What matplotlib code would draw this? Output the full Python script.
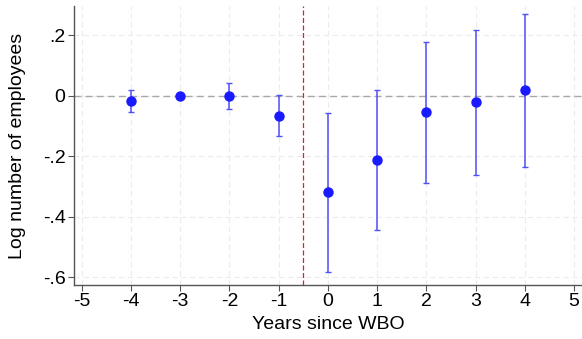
import matplotlib
matplotlib.use("Agg")
from matplotlib import pyplot as plt
import numpy as np

plt.rcParams['font.family'] = ['Liberation Sans', 'DejaVu Sans']

years = [-4, -3, -2, -1, 0, 1, 2, 3, 4]
coef = [-0.017, 0.0, -0.001, -0.066, -0.318, -0.212, -0.055, -0.022, 0.019]
ci_low = [-0.054, 0.0, -0.044, -0.134, -0.584, -0.445, -0.287, -0.263, -0.235]
ci_high = [0.019, 0.0, 0.042, 0.001, -0.056, 0.020, 0.177, 0.216, 0.270]

xticks = [-5, -4, -3, -2, -1, 0, 1, 2, 3, 4, 5]
yticks = [-0.6, -0.4, -0.2, 0, 0.2]
ytick_labels = ["-.6", "-.4", "-.2", "0", ".2"]

fig = plt.figure(figsize=(5.82, 3.39), dpi=100)
ax = fig.add_axes([0.127, 0.159, 0.873, 0.823])

coef = np.asarray(coef)
yerr = [coef - np.asarray(ci_low), np.asarray(ci_high) - coef]

ax.axhline(0, color="#a8a8a8", linestyle=(0, (5, 3)), linewidth=1.0, zorder=1)
ax.axvline(-0.5, color="#f01818", linestyle=(0, (4, 2)), linewidth=0.9, zorder=1)

ax.errorbar(years, coef, yerr=yerr, fmt="none", ecolor="#5050f5", elinewidth=1.1,
            capsize=2.5, capthick=1.0, zorder=2)
ax.plot(years, coef, "o", color="#1a1aff", markersize=6.5, zorder=3)

ax.set_xlim(-5.16, 5.16)
ax.set_ylim(-0.626, 0.296)
ax.set_xticks(xticks)
ax.set_xticklabels([str(t) for t in xticks])
ax.set_yticks(yticks)
ax.set_yticklabels(ytick_labels)

ax.grid(True, color="#ececec", linestyle=(0, (5, 3)), linewidth=0.8)
ax.set_axisbelow(True)

for s in ["top", "right"]:
    ax.spines[s].set_visible(False)
for s in ["left", "bottom"]:
    ax.spines[s].set_color("#555555")
    ax.spines[s].set_linewidth(1.0)

ax.tick_params(axis="both", labelsize=14, length=4, color="#555555", pad=2)
ax.set_xlabel("Years since WBO", fontsize=14, labelpad=4)
ax.set_ylabel("Log number of employees", fontsize=14, labelpad=12)

fig.savefig("out.png", dpi=100)
